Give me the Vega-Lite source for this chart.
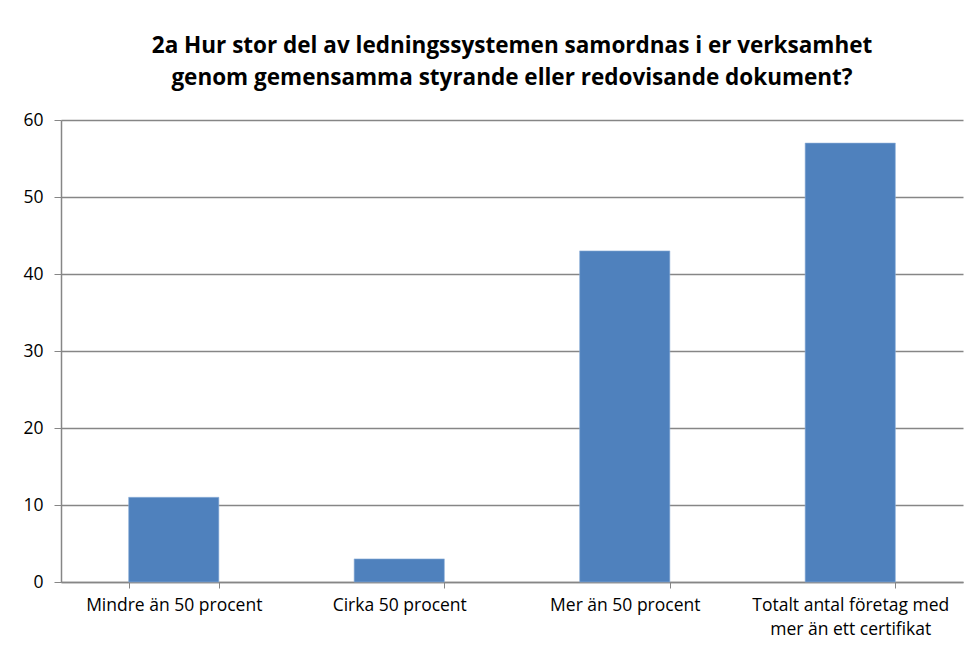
{
  "$schema": "https://vega.github.io/schema/vega-lite/v6.json",
  "width": 902,
  "height": 462,
  "autosize": {"type": "none"},
  "padding": {"left": 61, "top": 120, "right": 10, "bottom": 70},
  "background": "white",
  "title": {
    "text": ["2a Hur stor del av ledningssystemen samordnas  i er verksamhet", "genom gemensamma styrande eller redovisande dokument?"],
    "font": "Open Sans",
    "fontSize": 22.5,
    "fontWeight": "bold",
    "color": "#000000",
    "lineHeight": 32,
    "anchor": "middle",
    "offset": 22
  },
  "data": {
    "values": [
      {"kategori": "Mindre än 50 procent", "antal": 11},
      {"kategori": "Cirka 50 procent", "antal": 3},
      {"kategori": "Mer än 50 procent", "antal": 43},
      {"kategori": "Totalt antal företag med mer än ett certifikat", "antal": 57}
    ]
  },
  "mark": {"type": "bar", "color": "#4F81BD", "stroke": "#8fb0d8", "strokeWidth": 0.6},
  "encoding": {
    "x": {
      "field": "kategori",
      "type": "nominal",
      "sort": null,
      "scale": {"paddingInner": 0.6, "paddingOuter": 0.3},
      "axis": {
        "title": null,
        "labelAngle": 0,
        "labelFont": "Open Sans",
        "labelFontSize": 17.5,
        "labelColor": "#000000",
        "labelPadding": 8,
        "labelLineHeight": 24,
        "labelLimit": 300,
        "labelOverlap": false,
        "labelExpr": "datum.label == 'Totalt antal företag med mer än ett certifikat' ? ['Totalt antal företag med', 'mer än ett certifikat'] : datum.label",
        "tickBand": "extent",
        "tickSize": 6,
        "tickColor": "#868686",
        "domainColor": "#868686",
        "domainWidth": 1.5,
        "grid": false
      }
    },
    "y": {
      "field": "antal",
      "type": "quantitative",
      "scale": {"domain": [0, 60], "nice": false},
      "axis": {
        "title": null,
        "values": [0, 10, 20, 30, 40, 50, 60],
        "labelFont": "Open Sans",
        "labelFontSize": 17.5,
        "labelColor": "#000000",
        "labelPadding": 11,
        "tickSize": 7,
        "tickColor": "#868686",
        "domainColor": "#868686",
        "domainWidth": 1.5,
        "gridColor": "#868686",
        "gridWidth": 1.3
      }
    }
  },
  "config": {
    "view": {"stroke": null}
  }
}
